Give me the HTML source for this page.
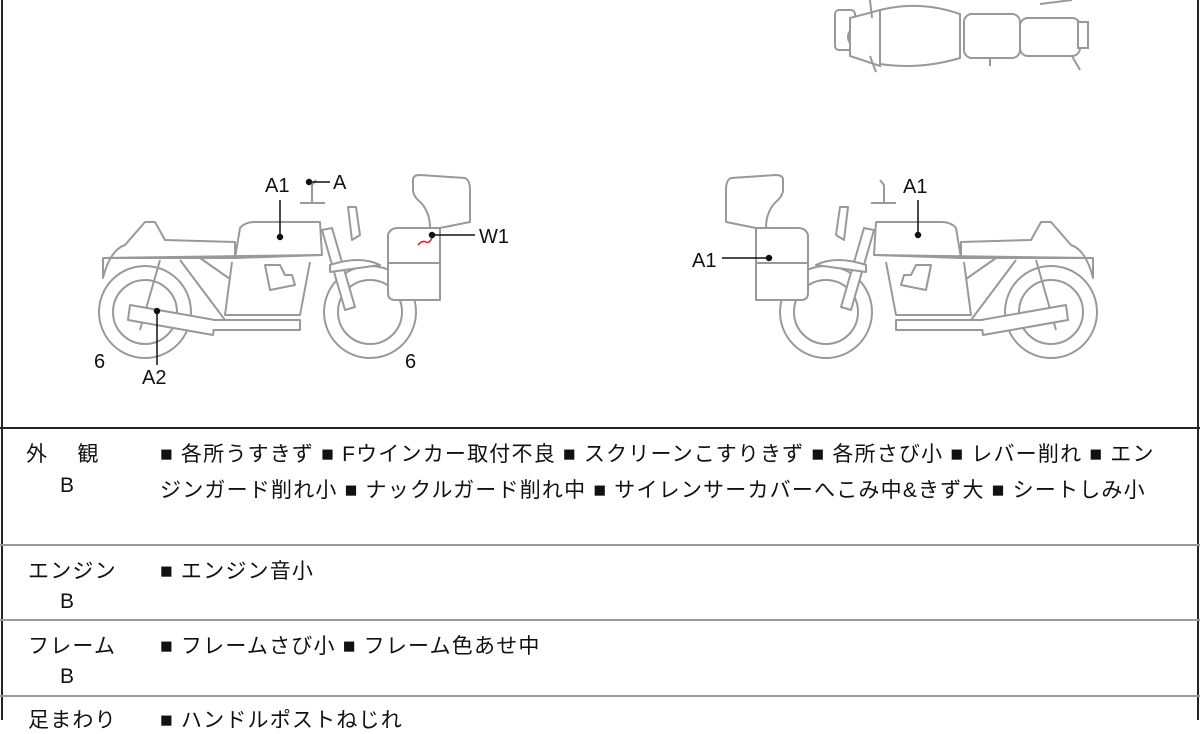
<!DOCTYPE html>
<html><head><meta charset="utf-8"><style>
body{margin:0;background:#fff;width:1200px;height:720px;overflow:hidden;position:relative;font-family:"Liberation Sans","Noto Sans CJK JP",sans-serif;color:#111}
.t{position:absolute;font-size:20px;white-space:nowrap}
.c{font-size:21px;letter-spacing:1.2px}
.hl{position:absolute;left:0;width:1200px;height:0;border-top:2px solid #999}
</style></head><body>
<svg width="1200" height="720" style="position:absolute;left:0;top:0">
<line x1="2" y1="0" x2="2" y2="720" stroke="#222" stroke-width="2"/>
<line x1="1198" y1="0" x2="1198" y2="720" stroke="#222" stroke-width="2"/>
<line x1="0" y1="428" x2="1200" y2="428" stroke="#222" stroke-width="2"/>
<defs>
<g id="bike" fill="#fff" stroke="#999" stroke-width="2" stroke-linejoin="round">
<circle cx="145" cy="312" r="46"/><circle cx="145" cy="312" r="32"/>
<circle cx="370" cy="312" r="46"/><circle cx="370" cy="312" r="32"/>
<path d="M103 278 Q110 250 125 245 L145 222 L155 222 L165 240 L235 242 L235 258 L103 258 Z"/>
<path d="M235 258 L240 228 Q245 222 255 222 L320 222 L322 255 Z"/>
<path d="M103 258 L322 255"/>
<path d="M160 260 L140 330 M180 260 L225 320 M200 258 L260 300"/>
<path d="M232 262 L225 315 L300 315 L310 262"/>
<path d="M265 265 L280 265 L285 275 L292 275 L295 285 L270 290 Z"/>
<path d="M130 305 L215 320 L213 335 L128 320 Z"/>
<path d="M213 320 L300 320 L300 330 L213 330"/>
<path d="M322 230 L345 310 L355 307 L332 228 Z"/>
<path d="M300 203 L325 203 M312 203 L312 185 L316 180"/>
<path d="M348 207 L356 207 L360 235 L352 240 Z"/>
<path d="M330 265 Q360 255 380 265 L330 272 Z"/>
<path d="M388 235 Q390 228 398 228 L440 228 L440 300 L395 300 Q388 300 388 293 Z"/>
<path d="M388 263 L440 263"/>
<path d="M413 180 Q413 175 420 175 L465 178 Q470 180 470 190 L470 222 L440 228 L430 228 Q430 210 418 200 Q413 195 413 190 Z"/>
</g>
</defs>
<use href="#bike"/>
<use href="#bike" transform="translate(1196,0) scale(-1,1)"/>
<g fill="#fff" stroke="#999" stroke-width="2">
<rect x="835" y="10" width="20" height="40" rx="4"/>
<circle cx="858" cy="37" r="10"/>
<path d="M850 18 L880 10 L880 66 L850 56 Z"/>
<path d="M880 10 Q920 0 960 14 L960 58 Q920 70 880 64 Z"/>
<rect x="964" y="14" width="56" height="44" rx="8"/>
<rect x="1020" y="18" width="60" height="38" rx="8"/>
<path d="M870 0 L872 18 M870 56 L876 72 M990 58 L990 66 M1040 4 L1072 0 M1072 56 L1080 70"/>
<rect x="1078" y="22" width="10" height="26"/>
</g>
<g stroke="#111" stroke-width="1.5" fill="#111">
<line x1="280" y1="236" x2="280" y2="200"/><circle cx="280" cy="237" r="2.5"/>
<line x1="310" y1="182" x2="330" y2="182"/><circle cx="309" cy="182" r="2.5"/>
<line x1="432" y1="235" x2="475" y2="235"/><circle cx="432" cy="235" r="2.5"/>
<line x1="157" y1="312" x2="157" y2="365"/><circle cx="157" cy="311" r="2.5"/>
<line x1="918" y1="234" x2="918" y2="200"/><circle cx="918" cy="235" r="2.5"/>
<line x1="768" y1="258" x2="722" y2="258"/><circle cx="769" cy="258" r="2.5"/>
</g>
<path d="M418 245 Q422 240 426 242 Q429 244 432 238" stroke="#d22" stroke-width="1.5" fill="none"/>
</svg>
<div class="t" style="left:265px;top:175px">A1</div>
<div class="t" style="left:333px;top:172px">A</div>
<div class="t" style="left:479px;top:226px">W1</div>
<div class="t" style="left:94px;top:351px">6</div>
<div class="t" style="left:142px;top:367px">A2</div>
<div class="t" style="left:405px;top:351px">6</div>
<div class="t" style="left:903px;top:176px">A1</div>
<div class="t" style="left:692px;top:250px">A1</div>
<div class="hl" style="top:544px"></div>
<div class="hl" style="top:619px"></div>
<div class="hl" style="top:695px"></div>
<div class="t c" style="left:26px;top:438px">外　&nbsp;観</div>
<div class="t c" style="left:60px;top:474px">B</div>
<div class="t c" style="left:160px;top:438px">■ 各所うすきず ■ Fウインカー取付不良 ■ スクリーンこすりきず ■ 各所さび小 ■ レバー削れ ■ エン</div>
<div class="t c" style="left:160px;top:474px">ジンガード削れ小 ■ ナックルガード削れ中 ■ サイレンサーカバーへこみ中&amp;きず大 ■ シートしみ小</div>
<div class="t c" style="left:28px;top:555px">エンジン</div>
<div class="t c" style="left:60px;top:590px">B</div>
<div class="t c" style="left:160px;top:555px">■ エンジン音小</div>
<div class="t c" style="left:28px;top:630px">フレーム</div>
<div class="t c" style="left:60px;top:665px">B</div>
<div class="t c" style="left:160px;top:630px">■ フレームさび小 ■ フレーム色あせ中</div>
<div class="t c" style="left:28px;top:704px">足まわり</div>
<div class="t c" style="left:160px;top:704px">■ ハンドルポストねじれ</div>
</body></html>
